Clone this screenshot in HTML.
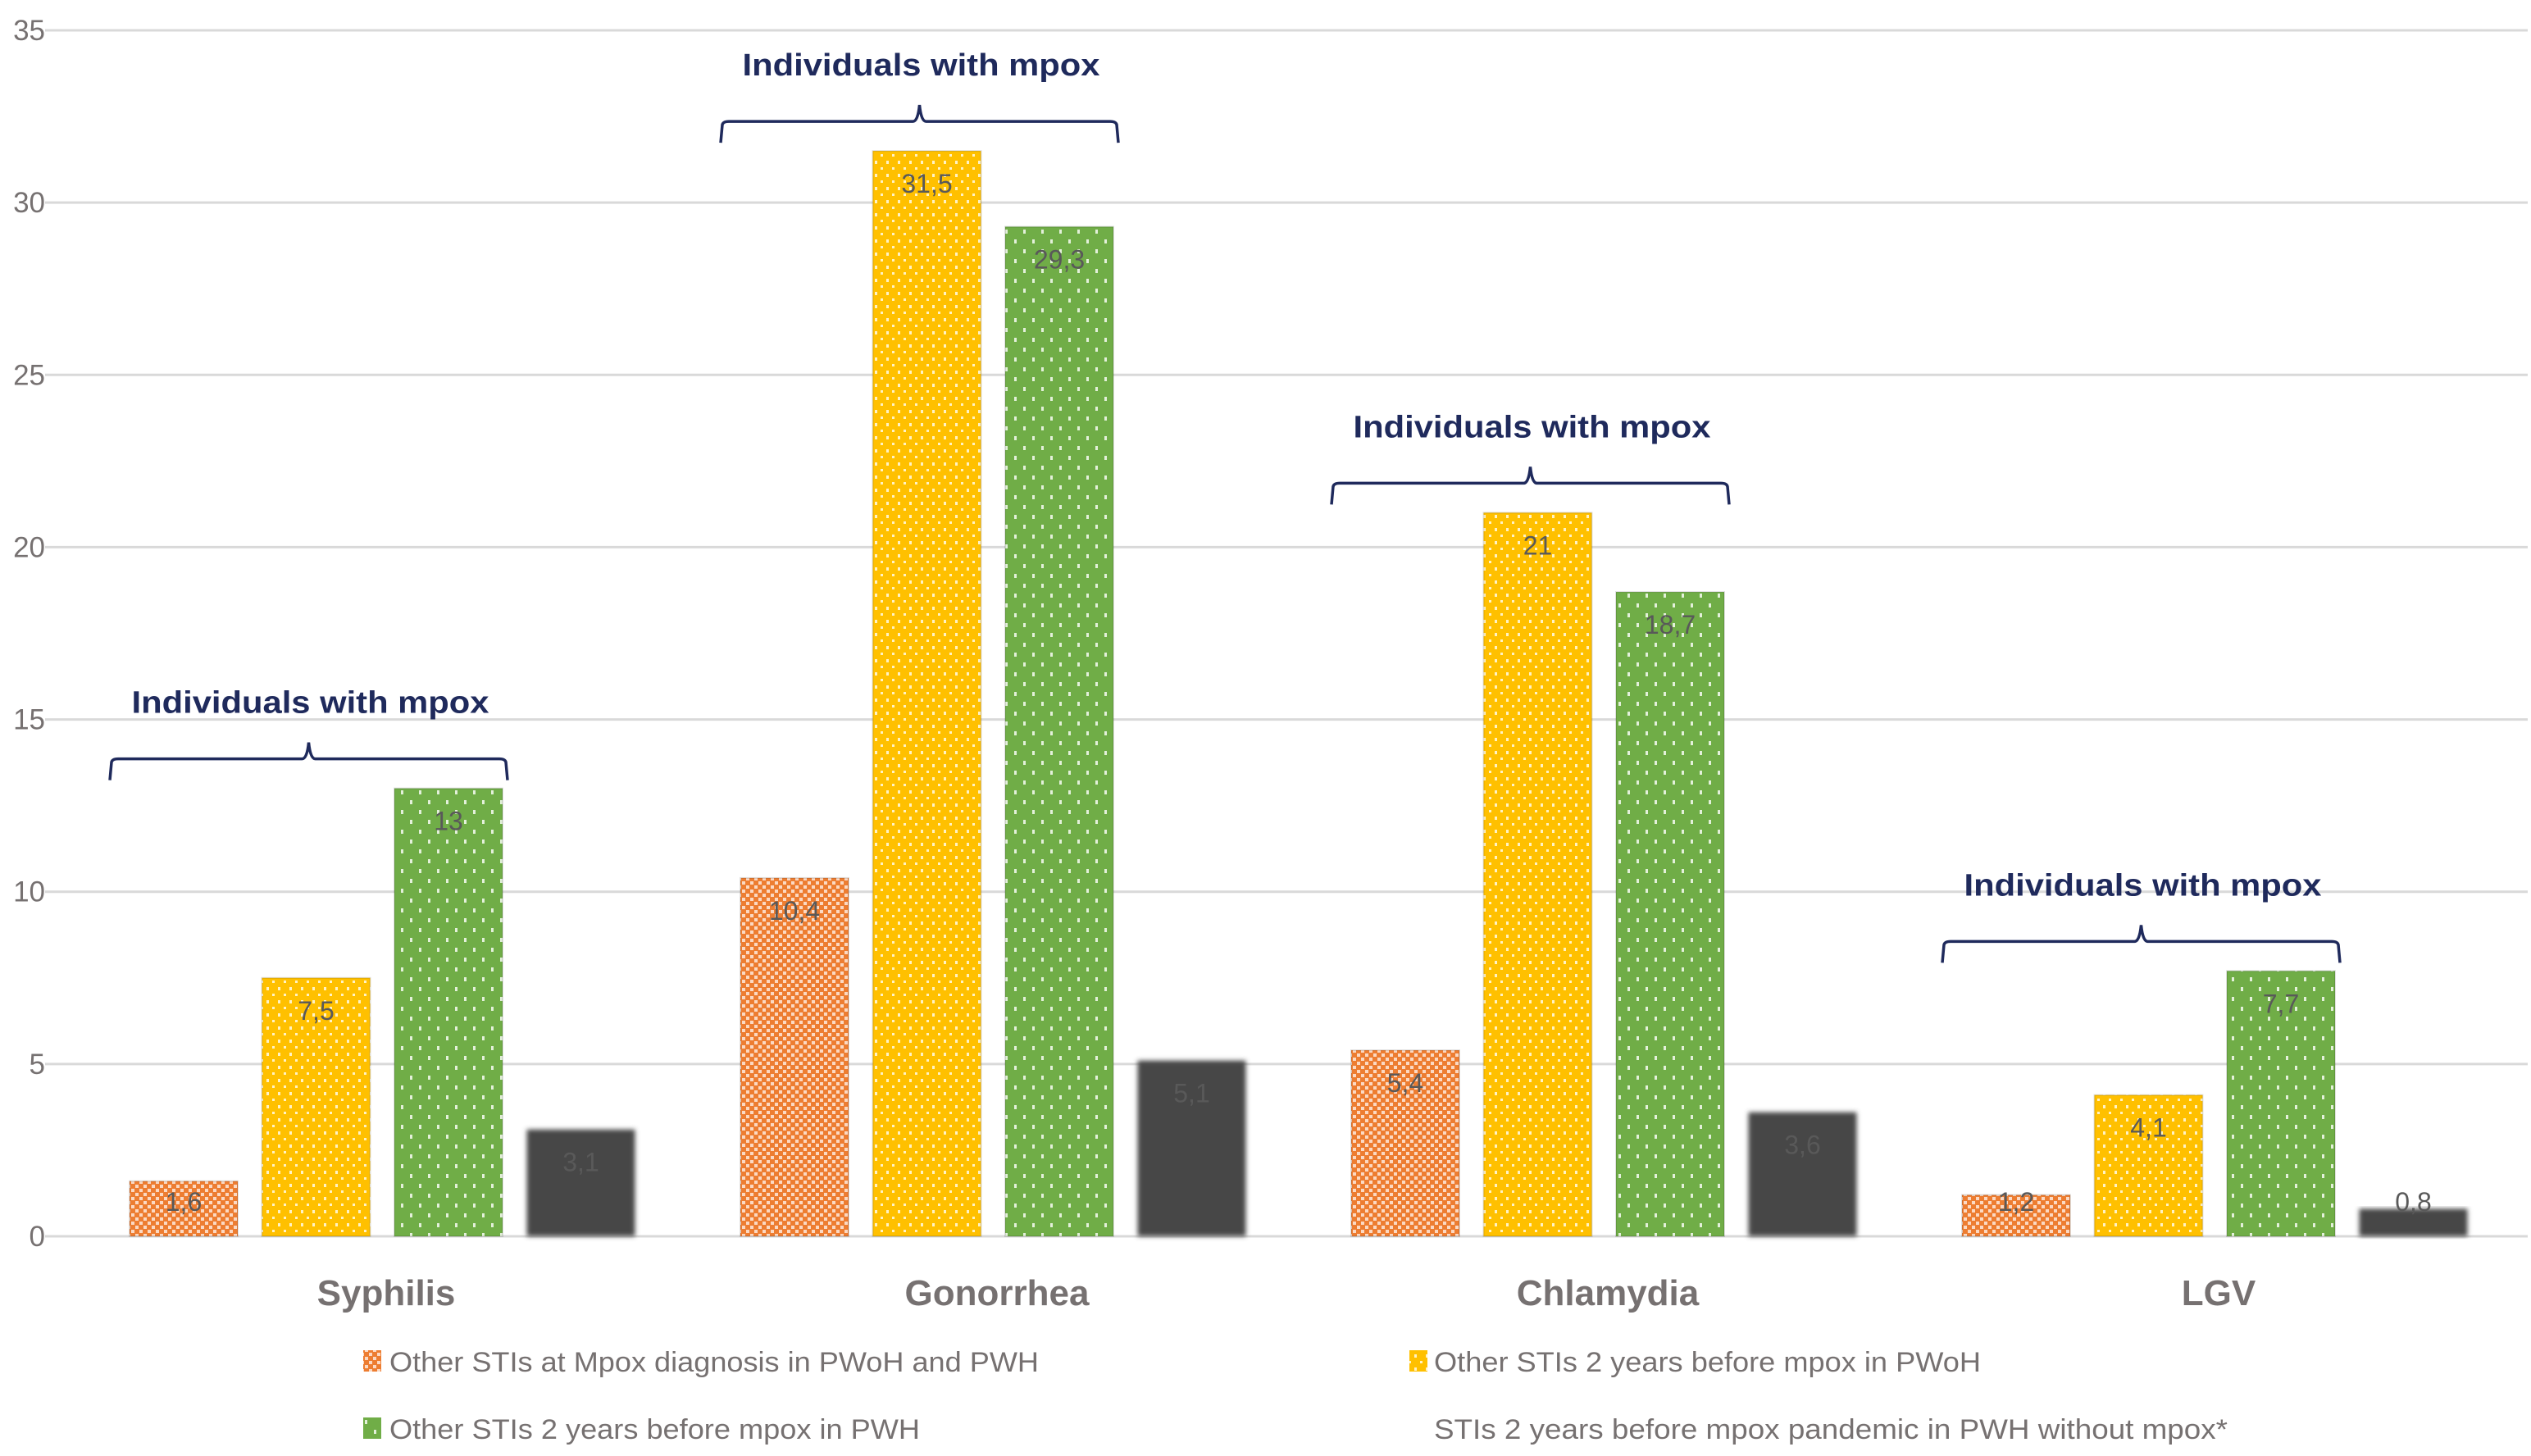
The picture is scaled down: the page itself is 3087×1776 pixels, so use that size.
<!DOCTYPE html>
<html><head><meta charset="utf-8"><style>
html,body{margin:0;padding:0;background:#fff;}
svg{display:block;font-family:"Liberation Sans",sans-serif;}
</style></head><body>
<svg id="chart" width="3087" height="1776" viewBox="0 0 3087 1776" xmlns="http://www.w3.org/2000/svg">
<defs>
<pattern id="pOrange" width="10" height="10" patternUnits="userSpaceOnUse">
<rect width="10" height="10" fill="#ED7D31"/><rect x="0" y="0" width="4" height="4" fill="#fbd9c3"/><rect x="5" y="5" width="4" height="4" fill="#fbd9c3"/>
</pattern>
<pattern id="pYellow" width="14" height="16" patternUnits="userSpaceOnUse">
<rect width="14" height="16" fill="#FFC000"/><rect x="3" y="4" width="3" height="4" fill="#fff2c6"/><rect x="10" y="12" width="3" height="3" fill="#fff2c6"/>
</pattern>
<pattern id="pGreen" width="22" height="24" patternUnits="userSpaceOnUse">
<rect width="22" height="24" fill="#70AD47"/><rect x="5" y="4" width="3" height="5" fill="#e3f0da"/><rect x="16" y="16" width="3" height="5" fill="#e3f0da"/>
</pattern>
<filter id="soft" x="-10%" y="-10%" width="120%" height="120%"><feGaussianBlur stdDeviation="3"/></filter>
</defs>
<g id="grid"></g>
<g id="yaxis"></g>
<g id="bars"></g>
<g id="labels"></g>
<g id="xaxis"></g>
<g id="annot"></g>
<g id="legend">
<g>
<rect x="443" y="1647" width="22" height="26" fill="url(#pOrange)"/>
<text x="475" y="1673" font-size="34" fill="#767171" textLength="792" lengthAdjust="spacingAndGlyphs">Other STIs at Mpox diagnosis in PWoH and PWH</text></g>
<g>
<rect x="1719" y="1647" width="22" height="26" fill="url(#pYellow)"/>
<text x="1749" y="1673" font-size="34" fill="#767171" textLength="667" lengthAdjust="spacingAndGlyphs">Other STIs 2 years before mpox in PWoH</text></g>
<g>
<rect x="443" y="1729" width="22" height="26" fill="url(#pGreen)"/>
<text x="475" y="1755" font-size="34" fill="#767171" textLength="647" lengthAdjust="spacingAndGlyphs">Other STIs 2 years before mpox in PWH</text></g>
<g>
<text x="1749" y="1755" font-size="34" fill="#767171" textLength="968" lengthAdjust="spacingAndGlyphs">STIs 2 years before mpox pandemic in PWH without mpox*</text></g>
</g>
</svg>
<script>
const categories = ["Syphilis","Gonorrhea","Chlamydia","LGV"];
const seriesOrange = [1.6, 10.4, 5.4, 1.2];
const seriesYellow = [7.5, 31.5, 21, 4.1];
const seriesGreen = [13, 29.3, 18.7, 7.7];
const seriesDark = [3.1, 5.1, 3.6, 0.8];
const yTicks = [0,5,10,15,20,25,30,35];
const annotationText = "Individuals with mpox";

const NS="http://www.w3.org/2000/svg";
const Y0=1508, Y35=37, YMAX=35;
const yScale=v=>Y0-(v/YMAX)*(Y0-Y35);
const BW=132, STEP=161.5;
const catCenter=i=>158+2*STEP-15+745*i;
const barX=(i,s)=>catCenter(i)-2*STEP+15+s*STEP;
function mk(tag,attrs,parent){const e=document.createElementNS(NS,tag);for(const k in attrs)e.setAttribute(k,attrs[k]);parent.appendChild(e);return e;}
const fmt=v=>String(v).replace('.',',');

const grid=document.getElementById('grid'), yax=document.getElementById('yaxis');
yTicks.forEach(t=>{
  const l=mk('line',{x1:55,x2:3083,y1:yScale(t),y2:yScale(t),stroke:'#d9d9d9','stroke-width':3},grid);
  
  
  const tx=mk('text',{x:55,y:yScale(t)+12,'text-anchor':'end','font-size':35,fill:'#767171'},yax);
  tx.textContent=t;
  
  
});

const series=[seriesOrange,seriesYellow,seriesGreen,seriesDark];
const fills=['url(#pOrange)','url(#pYellow)','url(#pGreen)','#474747'];
const names=['orange','yellow','green','dark'];
const bars=document.getElementById('bars'), labs=document.getElementById('labels');
categories.forEach((c,i)=>{
  series.forEach((arr,s)=>{
    const v=arr[i], x=barX(i,s), y=yScale(v);
    const r=mk('rect',{x:x,y:y,width:BW,height:Y0-y,fill:fills[s]},bars);
    if(s===3) r.setAttribute('filter','url(#soft)');
    else { r.setAttribute('stroke','rgba(0,0,0,0.12)'); r.setAttribute('stroke-width','2'); }
    
    
    const ly=Math.min(y+40,Y0-42)+11;
    const t=mk('text',{x:x+BW/2,y:ly,'text-anchor':'middle','font-size':32,fill:'#595959'},labs);
    t.textContent=fmt(v);
    
    
  });
  const xl=mk('text',{x:catCenter(i)+5,y:1592,'text-anchor':'middle','font-size':44,'font-weight':'bold',fill:'#767171'},document.getElementById('xaxis'));
  xl.textContent=c;
  
  
  const ann=document.getElementById('annot');
  const g=mk('g',{},ann);
  
  
  const top=yScale(Math.max(seriesOrange[i],seriesYellow[i],seriesGreen[i]));
  const by=top-36;
  const bl=barX(i,0)-24, br=barX(i,2)+BW+6, bc=(bl+br)/2;
  mk('path',{d:`M${bl},${by+26} L${bl+2},${by+4} Q${bl+3},${by} ${bl+10},${by} L${bc-8},${by} Q${bc-2},${by} ${bc},${by-20} Q${bc+2},${by} ${bc+8},${by} L${br-10},${by} Q${br-3},${by} ${br-2},${by+4} L${br},${by+26}`,fill:'none',stroke:'#1F2A5C','stroke-width':3.5},g);
  const at=mk('text',{x:bc+2,y:by-56,'text-anchor':'middle','font-size':38,'font-weight':'bold',fill:'#1F2A5C',textLength:436,lengthAdjust:'spacingAndGlyphs'},g);
  at.textContent=annotationText;
});
</script>
</body></html>
